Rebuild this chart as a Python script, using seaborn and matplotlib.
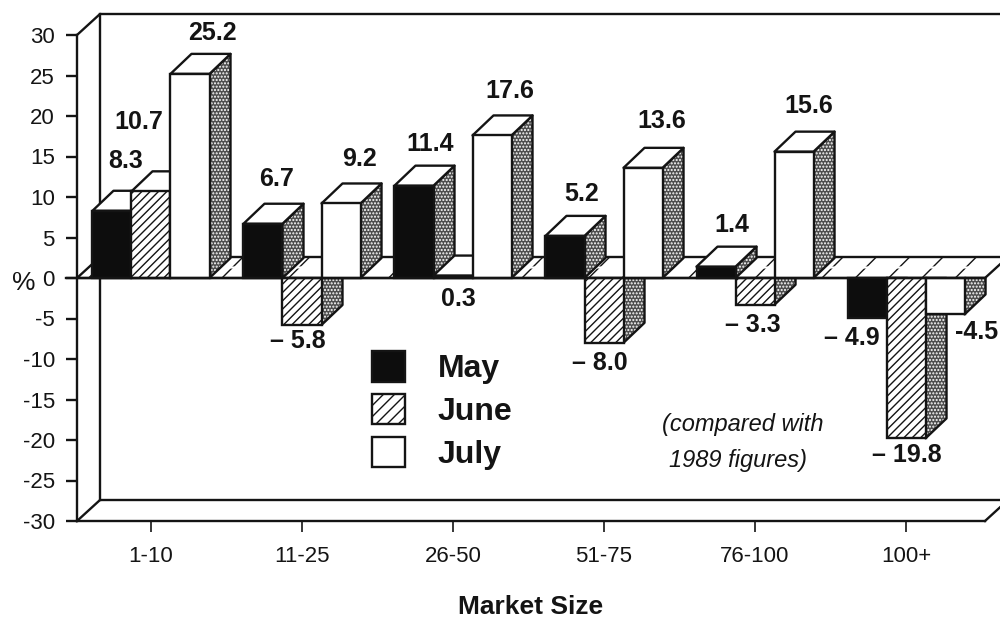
import pandas as pd
import matplotlib.pyplot as plt
import seaborn as sns
from matplotlib.patches import Patch, Polygon

# Values
market_sizes = ["1-10", "11-25", "26-50", "51-75", "76-100", "100+"]
months = ["May", "June", "July"]
may = [8.3, 6.7, 11.4, 5.2, 1.4, -4.9]
june = [10.7, -5.8, 0.3, -8.0, -3.3, -19.8]
july = [25.2, 9.2, 17.6, 13.6, 15.6, -4.5]
y_ticks = [30, 25, 20, 15, 10, 5, 0, -5, -10, -15, -20, -25, -30]

# Printed labels, the last July one has a short dash in the original
may_labels = ["8.3", "6.7", "11.4", "5.2", "1.4", "\u2013 4.9"]
june_labels = ["10.7", "\u2013 5.8", "0.3", "\u2013 8.0", "\u2013 3.3", "\u2013 19.8"]
july_labels = ["25.2", "9.2", "17.6", "13.6", "15.6", "-4.5"]

# Label offsets from the bar end, in pixels
may_offsets = [(14, 50), (14, 45), (16, 42), (17, 42), (16, 42), (-15, -20)]
june_offsets = [(-12, 69), (-4, -16), (5, -23), (-4, -20), (-2, -20), (1, -17)]
july_offsets = [(22, 41), (18, 44), (18, 44), (19, 47), (15, 46), (32, -18)]

plt.rcParams["font.family"] = ["Liberation Sans", "DejaVu Sans"]
plt.rcParams["axes.unicode_minus"] = False
plt.rcParams["hatch.linewidth"] = 1.0

INK = "#141414"
LW = 1.7
W, H = 1000, 618

df = pd.DataFrame({
    "Market Size": market_sizes * 3,
    "Month": [m for m in months for _ in market_sizes],
    "Percent": may + june + july,
})

fig = plt.figure(figsize=(W / 100, H / 100), dpi=100)
ax = fig.add_axes([77 / W, 1 - 521 / H, (985 - 77) / W, (521 - 35) / H])

sns.barplot(
    data=df, x="Market Size", y="Percent", hue="Month", hue_order=months,
    order=market_sizes, palette={"May": "#0d0d0d", "June": "white", "July": "white"},
    width=0.775, edgecolor=INK, linewidth=LW, saturation=1, legend=False, ax=ax,
)
ax.set_xlim(-0.49, 5.523)
ax.set_ylim(-30, 30)

x_per_px = (ax.get_xlim()[1] - ax.get_xlim()[0]) / (985 - 77)
y_per_px = 60 / (521 - 35)


def add_poly(points, z, **kwargs):
    kwargs.setdefault("facecolor", "white")
    kwargs.setdefault("edgecolor", INK)
    kwargs.setdefault("linewidth", LW)
    poly = Polygon(points, closed=True, zorder=z, clip_on=False, joinstyle="round", **kwargs)
    ax.add_patch(poly)
    return poly


# Walls and floor, drawn as lines behind the bars
wall_dx = 23 * x_per_px
wall_dy = 21 * y_per_px
x0, x1 = ax.get_xlim()
ax.plot([x0, x0 + wall_dx, x1 + wall_dx + 1], [30, 30 + wall_dy, 30 + wall_dy],
        color=INK, lw=LW, clip_on=False, zorder=1)
ax.plot([x0 + wall_dx, x0 + wall_dx], [-30 + wall_dy, 30 + wall_dy],
        color=INK, lw=LW, clip_on=False, zorder=1)
ax.plot([x0, x0 + wall_dx, x1 + wall_dx], [-30, -30 + wall_dy, -30 + wall_dy],
        color=INK, lw=LW, clip_on=False, zorder=1)
ax.plot([x1, x1 + wall_dx], [-30, -30 + wall_dy], color=INK, lw=LW, clip_on=False, zorder=1)

# Hatched plane at zero, white through the middle so only short ticks show
add_poly([(x0, 0), (x0 + wall_dx, wall_dy), (x1 + wall_dx, wall_dy), (x1, 0)], 2,
         hatch="/", linewidth=0)
add_poly([(x0 + 0.45 * wall_dx, 0.45 * wall_dy), (x0 + 0.55 * wall_dx, 0.55 * wall_dy),
          (x1 + 0.55 * wall_dx, 0.55 * wall_dy), (x1 + 0.45 * wall_dx, 0.45 * wall_dy)], 2.1,
         linewidth=0, edgecolor="white")
add_poly([(x0, 0), (x0 + wall_dx, wall_dy), (x1 + wall_dx, wall_dy), (x1, 0)], 2.2,
         facecolor="none")

# Depth faces taken from the bars seaborn drew
bar_dx = 21 * x_per_px
bar_dy = 20 * y_per_px
all_labels = [may_labels, june_labels, july_labels]
all_offsets = [may_offsets, june_offsets, july_offsets]
for j, container in enumerate(ax.containers):
    for i, bar in enumerate(container):
        z = 3 + 3 * (3 * i + j)
        left = bar.get_x()
        right = left + bar.get_width()
        value = bar.get_height()
        bar.set_zorder(z + 2)
        if j == 1:
            bar.set_hatch("////")

        if value < 0:
            side = [(right, 0), (right, value), (right + bar_dx, value + bar_dy), (right + bar_dx, 0)]
        else:
            side = [(right, 0), (right, value), (right + bar_dx, value + bar_dy), (right + bar_dx, bar_dy)]
        add_poly(side, z, facecolor="#4d4d4d", edgecolor="white", hatch=".....", linewidth=0)
        add_poly(side, z + 0.5, facecolor="none")
        if value > 0:
            add_poly([(left, value), (left + bar_dx, value + bar_dy),
                      (right + bar_dx, value + bar_dy), (right, value)], z + 1)

        ax.annotate(all_labels[j][i], xy=(left + bar.get_width() / 2, value),
                    xytext=all_offsets[j][i], textcoords="offset pixels",
                    ha="center", va="center", fontsize=18, fontweight="bold",
                    color=INK, zorder=100, annotation_clip=False)

# Axes
sns.despine(ax=ax, top=True, right=True)
for side_name in ["left", "bottom"]:
    ax.spines[side_name].set_linewidth(LW)
    ax.spines[side_name].set_color(INK)
ax.axhline(0, xmin=-11 / 908, xmax=1, color=INK, lw=LW, clip_on=False, zorder=60)
ax.set_yticks(y_ticks)
ax.set_yticklabels([str(t) for t in y_ticks])
ax.tick_params(axis="y", length=8, width=LW, color=INK, labelcolor=INK, labelsize=16, pad=8)
ax.tick_params(axis="x", length=8, width=1.2, color=INK, labelcolor=INK, labelsize=16, pad=10)

ax.set_ylabel("%", rotation=0, fontsize=19, color=INK, ha="center", va="center")
ax.yaxis.set_label_coords((24 - 77) / 908, (521 - 283) / 486)
ax.set_xlabel("Market Size", fontsize=19, fontweight="bold", color=INK, va="center")
ax.xaxis.set_label_coords((531 - 77) / 908, (521 - 607) / 486)

# Legend and note
handles = [
    Patch(facecolor="#0d0d0d", edgecolor=INK, linewidth=LW, label="May"),
    Patch(facecolor="white", edgecolor=INK, linewidth=LW, hatch="///", label="June"),
    Patch(facecolor="white", edgecolor=INK, linewidth=LW, label="July"),
]
ax.legend(
    handles=handles, loc="upper left", bbox_to_anchor=(372 / W, 1 - 351 / H),
    bbox_transform=fig.transFigure, frameon=False, borderpad=0, borderaxespad=0,
    handlelength=1.03, handleheight=1.1, handletextpad=1.03, labelspacing=0.3,
    prop={"weight": "bold", "size": 23}, labelcolor=INK,
).set_zorder(90)
fig.text(743 / W, 1 - 424 / H, "(compared with", style="italic", fontsize=17,
         ha="center", va="center", color=INK)
fig.text(738 / W, 1 - 461 / H, "1989 figures)", style="italic", fontsize=17,
         ha="center", va="center", color=INK)

plt.savefig("out.png", dpi=100)
plt.close()
